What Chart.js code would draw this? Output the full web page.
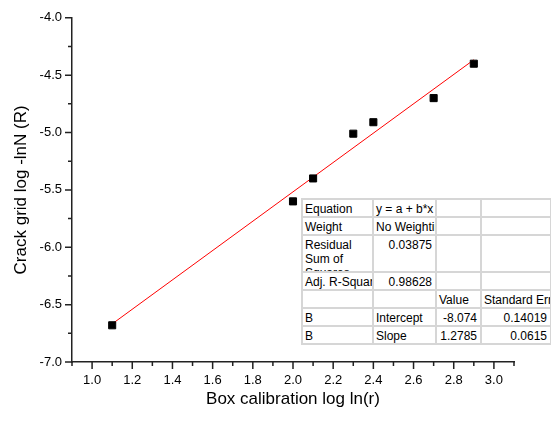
<!DOCTYPE html>
<html>
<head>
<meta charset="utf-8">
<script src="https://cdn.jsdelivr.net/npm/chart.js@4.4.0/dist/chart.umd.min.js"></script>
<style>
  body { margin: 0; background: #fff; }
  #wrap { position: relative; width: 551px; height: 421px; }
  #fitTable {
    position: absolute; left: 301px; top: 198px; width: 250px;
    border-collapse: collapse; table-layout: fixed;
    background: #fff; border: 1px solid #333;
    font: 12px "Liberation Sans", Arial, sans-serif; color: #000;
  }
  #fitTable td {
    border: 2px solid #d6d6d6; padding: 2px 3px 0 2px;
    white-space: nowrap; overflow: hidden; vertical-align: top;
    line-height: 14px; height: 14px;
  }
  #fitTable td.num { text-align: right; }
  #fitTable td.wrap div { white-space: normal; height: 33px; overflow: hidden; }
</style>
</head>
<body>
<div id="wrap">
  <canvas id="chart" width="551" height="421"></canvas>
  <table id="fitTable">
    <colgroup><col style="width:71px"><col style="width:63px"><col style="width:45px"><col style="width:70px"></colgroup>
    <tbody id="fitBody"></tbody>
  </table>
</div>
<script>
// measured points
const xValues = [1.1, 2.0, 2.1, 2.3, 2.4, 2.7, 2.9];
const yValues = [-6.68, -5.60, -5.40, -5.01, -4.91, -4.70, -4.40];

// fitted line ends
const fitX = [1.1, 2.9];
const fitY = [-6.668, -4.366];

const xTickLabels = ['1.0', '1.2', '1.4', '1.6', '1.8', '2.0', '2.2', '2.4', '2.6', '2.8', '3.0'];
const yTickLabels = ['-7.0', '-6.5', '-6.0', '-5.5', '-5.0', '-4.5', '-4.0'];

// fit report table
const tableRows = [
  ['Equation', 'y = a + b*x', '', ''],
  ['Weight', 'No Weighting', '', ''],
  ['Residual Sum of Squares', '0.03875', '', ''],
  ['Adj. R-Square', '0.98628', '', ''],
  ['', '', 'Value', 'Standard Error'],
  ['B', 'Intercept', '-8.074', '0.14019'],
  ['B', 'Slope', '1.2785', '0.0615']
];

const body = document.getElementById('fitBody');
tableRows.forEach((row, r) => {
  const tr = document.createElement('tr');
  row.forEach((cell, c) => {
    const td = document.createElement('td');
    if (r === 2 && c === 0) {
      td.className = 'wrap';
      td.innerHTML = '<div>' + cell + '</div>';
    } else {
      td.textContent = cell;
    }
    if (/^-?[0-9.]+$/.test(cell)) td.className = 'num';
    tr.appendChild(td);
  });
  body.appendChild(tr);
});

const fontFamily = '"Liberation Sans", Arial, sans-serif';

function xLabel(v) {
  const s = v.toFixed(1);
  return xTickLabels.includes(s) ? s : '';
}
function yLabel(v) {
  const s = v.toFixed(1);
  return (Math.round(v * 4) % 2 === 0 && yTickLabels.includes(s)) ? s : '';
}

// short minor ticks, longer major ticks
const tickMarks = {
  id: 'tickMarks',
  afterDraw(chart) {
    const ctx = chart.ctx;
    const xs = chart.scales.x, ys = chart.scales.y;
    const area = chart.chartArea;
    ctx.save();
    ctx.strokeStyle = '#222';
    ctx.lineWidth = 1.5;
    ctx.beginPath();
    xs.ticks.forEach(t => {
      const px = xs.getPixelForValue(t.value);
      const len = xLabel(t.value) ? 7 : 4;
      ctx.moveTo(px, area.bottom);
      ctx.lineTo(px, area.bottom + len);
    });
    ys.ticks.forEach(t => {
      const py = ys.getPixelForValue(t.value);
      const len = yLabel(t.value) ? 7 : 4;
      ctx.moveTo(area.left, py);
      ctx.lineTo(area.left - len, py);
    });
    ctx.stroke();
    ctx.restore();
  }
};

new Chart(document.getElementById('chart'), {
  type: 'scatter',
  data: {
    datasets: [
      {
        label: 'Fit',
        data: fitX.map((x, i) => ({ x: x, y: fitY[i] })),
        showLine: true,
        borderColor: '#ff0000',
        borderWidth: 1,
        pointRadius: 0,
        order: 2
      },
      {
        label: 'Data',
        data: xValues.map((x, i) => ({ x: x, y: yValues[i] })),
        pointStyle: 'rect',
        pointRadius: 5,
        backgroundColor: '#000',
        borderColor: '#000',
        borderWidth: 1,
        order: 1
      }
    ]
  },
  options: {
    responsive: false,
    animation: false,
    layout: { padding: { left: 11, top: 16, right: 37, bottom: 11 } },
    plugins: { legend: { display: false }, tooltip: { enabled: false } },
    scales: {
      x: {
        type: 'linear',
        min: 0.9, max: 3.1,
        afterFit: s => { s.height = 48; },
        border: { display: true, color: '#222', width: 1.5 },
        grid: { display: true, drawOnChartArea: false, drawTicks: false, color: 'transparent' },
        ticks: {
          stepSize: 0.1, autoSkip: false, maxRotation: 0, padding: 11,
          color: '#000', font: { family: fontFamily, size: 13 },
          callback: v => xLabel(v)
        },
        title: {
          display: true, text: 'Box calibration log ln(r)', color: '#000',
          font: { family: fontFamily, size: 17 }, padding: 0
        }
      },
      y: {
        type: 'linear',
        min: -7, max: -4,
        afterFit: s => { s.width = 61; },
        border: { display: true, color: '#222', width: 1.5 },
        grid: { display: true, drawOnChartArea: false, drawTicks: false, color: 'transparent' },
        ticks: {
          stepSize: 0.25, autoSkip: false, padding: 10,
          color: '#000', font: { family: fontFamily, size: 13 },
          callback: v => yLabel(v)
        },
        title: {
          display: true, text: 'Crack grid log -lnN (R)', color: '#000',
          font: { family: fontFamily, size: 17 }, padding: 0
        }
      }
    }
  },
  plugins: [tickMarks]
});
</script>
</body>
</html>
